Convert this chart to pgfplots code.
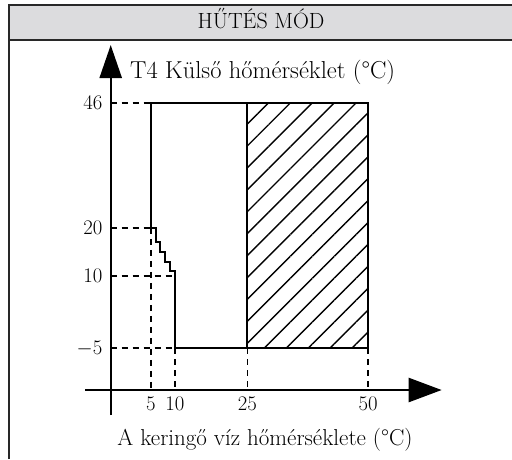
\documentclass[border=0pt]{standalone}
\usepackage{fontspec}
\usepackage{pgfplots}
\pgfplotsset{compat=1.18}
\usetikzlibrary{patterns.meta,arrows.meta}
\definecolor{band}{RGB}{220,220,222}
\definecolor{frame}{RGB}{40,40,40}
\begin{document}
\begin{tikzpicture}[x=1pt,y=1pt]
\useasboundingbox (0,0) rectangle (512,459);
\fill[band] (8,419) rectangle (512,454);
\draw[frame,line width=1.8pt] (9,0) -- (9,454.9);
\draw[frame,line width=1.8pt] (8.1,454) -- (512,454);
\draw[frame,line width=1.5pt] (8.1,419) -- (512,419);
\node[font=\fontsize{22}{26}\selectfont, anchor=base, inner sep=0pt] at (261,430.2) {HŰTÉS MÓD};
\begin{axis}[hide axis, x=4.832pt, y=4.815pt, xmin=-10, xmax=70, ymin=-25, ymax=60,
  at={(78.33pt,14.33pt)}, anchor=south west, clip=false]
% hatched zone
\addplot[draw=none, mark=none, pattern={Lines[angle=45, distance=15.5pt, line width=1.4pt]}]
  coordinates {(25,-5) (50,-5) (50,46) (25,46)};
% dashed guide lines
\addplot[black, mark=none, dash pattern=on 6pt off 5pt, line width=1.9pt] coordinates {(-3.3,46) (5,46)};
\addplot[black, mark=none, dash pattern=on 6pt off 5pt, line width=1.9pt] coordinates {(-3.3,20) (5,20)};
\addplot[black, mark=none, dash pattern=on 6pt off 5pt, line width=1.9pt] coordinates {(-3.3,10) (10,10)};
\addplot[black, mark=none, dash pattern=on 6pt off 5pt, line width=1.9pt] coordinates {(-3.3,-5) (10,-5)};
\addplot[black, mark=none, dash pattern=on 6pt off 5pt, line width=1.9pt] coordinates {(5,20) (5,-13.65)};
\addplot[black, mark=none, dash pattern=on 6pt off 5pt, line width=1.9pt] coordinates {(10,-5) (10,-13.65)};
\addplot[black, mark=none, dash pattern=on 6pt off 5pt, line width=1.9pt] coordinates {(25,-5) (25,-13.65)};
\addplot[black, mark=none, dash pattern=on 6pt off 5pt, line width=1.9pt] coordinates {(50,-5) (50,-13.65)};
% operating region outline
\addplot[black, mark=none, line width=2pt, line join=miter] coordinates {(5,20) (5,46) (50,46) (50,-5) (10,-5)};
\addplot[black, mark=none, line width=2pt, line join=miter] coordinates {(5,20) (6,20) (6,17) (7,17) (7,15) (8,15) (8,13) (9,13) (9,11) (10,11) (10,-5)};
\addplot[black, mark=none, line width=2pt] coordinates {(25,-5) (25,46)};
% axes
\addplot[black, mark=none, line width=2.4pt, -{Triangle[length=33pt,width=22pt]}] coordinates {(-3.3,-18.84) (-3.3,58)};
\addplot[black, mark=none, line width=2.4pt, -{Triangle[length=33pt,width=24pt]}] coordinates {(-8.6,-13.65) (65.2,-13.65)};
% tick labels
\foreach \v in {46,20,10,-5}{
  \edef\tmp{\noexpand\node[anchor=east, inner sep=0pt, font=\noexpand\fontsize{20}{24}\noexpand\selectfont] at (axis cs:-5.0,\v) {$\v$};}
  \tmp
}
\foreach \v in {5,10,25,50}{
  \edef\tmp{\noexpand\node[inner sep=0pt, font=\noexpand\fontsize{20}{24}\noexpand\selectfont] at (axis cs:\v,-16.55) {$\v$};}
  \tmp
}
\end{axis}
\node[font=\fontsize{24.5}{29}\selectfont, anchor=base west, inner sep=0pt] at (130,380) {T4 Külső hőmérséklet (°C)};
\node[font=\fontsize{23}{27}\selectfont, anchor=base, inner sep=0pt] at (265,14) {A keringő víz hőmérséklete (°C)};
\end{tikzpicture}
\end{document}
